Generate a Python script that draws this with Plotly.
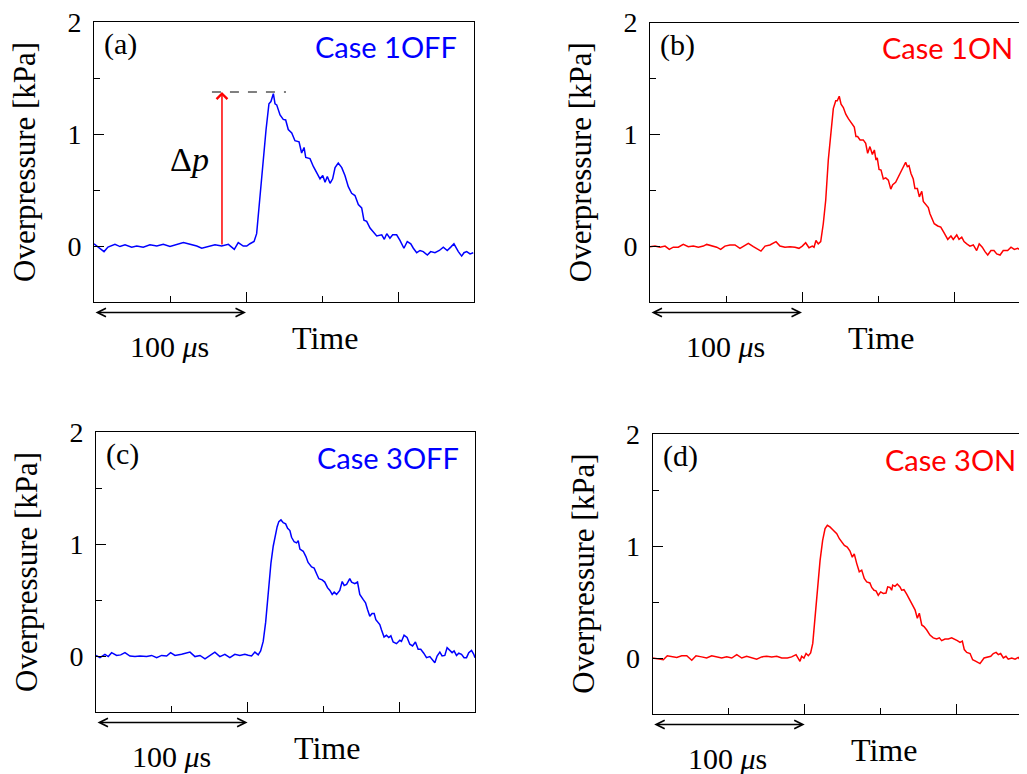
import plotly.graph_objects as go

# ---------------- data (time in microseconds, overpressure in kPa) ----------------
t_a = [0.0, 3.9, 6.6, 9.2, 13.8, 17.1, 20.4, 24.8, 28.1, 32.4,
       36.8, 41.3, 45.6, 50.0, 54.4, 58.8, 63.2, 67.6, 70.9, 75.2,
       79.6, 84.0, 88.4, 92.3, 94.9, 98.2, 100.5, 102.6, 105.3, 107.0,
       109.2, 111.4, 113.2, 115.1, 116.4, 118.0, 119.1, 120.2, 122.4, 124.5,
       126.1, 127.8, 130.1, 132.2, 134.9, 136.6, 138.2, 139.3, 142.1, 144.3,
       146.5, 148.7, 150.5, 152.0, 153.5, 155.3, 157.0, 158.6, 160.7, 163.0,
       165.1, 167.3, 169.5, 171.7, 173.9, 176.1, 177.6, 179.4, 181.6, 183.8,
       186.0, 189.3, 191.0, 192.6, 194.7, 196.5, 199.1, 201.3, 203.9, 206.1,
       208.4, 210.1, 212.3, 214.5, 216.6, 219.3, 221.5, 224.3, 227.2, 229.8,
       232.4, 234.7, 236.8, 239.7, 241.9, 243.4, 245.2, 247.4, 249.5]
p_a = [0.02, -0.02, -0.05, -0.01, 0.015, -0.005, 0.01, -0.01, 0.0, -0.01,
       0.01, 0.0, 0.015, -0.005, 0.01, 0.03, 0.015, 0.0, -0.02, -0.005,
       0.01, 0.0, 0.015, -0.03, 0.03, 0.0, 0.0, 0.02, 0.04, 0.11,
       0.44, 0.80, 1.04, 1.27, 1.29, 1.36, 1.27, 1.26, 1.17, 1.13,
       1.125, 1.04, 1.01, 0.94, 0.93, 0.83, 0.88, 0.79, 0.78, 0.71,
       0.65, 0.60, 0.63, 0.57, 0.62, 0.56, 0.60, 0.70, 0.74, 0.70,
       0.63, 0.53, 0.47, 0.45, 0.37, 0.34, 0.23, 0.22, 0.16, 0.12,
       0.09, 0.10, 0.06, 0.11, 0.07, 0.10, 0.10, 0.05, -0.02, 0.04,
       0.02, -0.02, -0.06, -0.04, -0.05, -0.08, -0.05, -0.06, -0.04, -0.01,
       -0.04, -0.01, 0.02, -0.05, -0.09, -0.06, -0.05, -0.07, -0.06]

t_b = [0, 3.3, 6.6, 9.9, 12.7, 15.3, 18.6, 21.9, 25.2, 28.5,
       31.8, 35.1, 37.3, 40.6, 43.9, 46.5, 49.3, 52.6, 55.9, 59.2,
       62.5, 64.7, 68.0, 73.0, 75.7, 78.9, 82.9, 85.5, 88.8, 92.1,
       95.4, 98.0, 100.2, 102.4, 104.6, 106.8, 107.9, 109.2, 110.7, 112.3,
       114.0, 115.6, 117.3, 119.1, 120.6, 122.2, 123.2, 124.5, 125.7, 127.2,
       128.8, 130.5, 132.7, 134.4, 135.5, 136.6, 138.2, 140.3, 141.9, 143.2,
       144.7, 146.3, 147.6, 148.7, 149.5, 150.7, 152.0, 153.5, 155.1, 156.8,
       158.4, 159.7, 161.6, 163.4, 165.1, 166.6, 168.2, 169.3, 170.4, 171.7,
       173.2, 174.3, 175.9, 177.2, 178.8, 179.8, 181.6, 183.1, 184.2, 185.3,
       187.0, 189.3, 191.3, 193.4, 195.9, 198.0, 199.5, 201.8, 203.3, 205.1,
       206.6, 208.4, 210.5, 212.7, 214.9, 216.6, 218.6, 220.4, 222.2, 224.3,
       226.3, 228.1, 230.3, 232.4, 235.3, 237.5, 239.7, 241.9, 244.1, 245.6,
       247.2, 248.5]
p_b = [-0.005, 0.0, -0.01, 0.0, -0.03, -0.01, -0.01, 0.015, -0.005, 0.0,
       -0.01, 0.0, 0.015, 0.0, -0.01, -0.03, 0.0, 0.01, 0.01, -0.02,
       0.01, 0.025, -0.005, -0.045, 0.0, 0.01, 0.04, 0.0, -0.01, -0.005,
       -0.01, -0.02, 0.0, 0.03, -0.015, 0.0, -0.01, 0.05, 0.02, 0.04,
       0.20, 0.41, 0.77, 1.04, 1.23, 1.30, 1.30, 1.34, 1.27, 1.24,
       1.18, 1.14, 1.10, 1.065, 0.98, 0.98, 0.95, 0.95, 0.92, 0.83,
       0.89, 0.82, 0.86, 0.77, 0.79, 0.685, 0.68, 0.60, 0.61, 0.59,
       0.51, 0.55, 0.57, 0.62, 0.66, 0.70, 0.75, 0.71, 0.72, 0.65,
       0.60, 0.515, 0.515, 0.44, 0.49, 0.40, 0.37, 0.345, 0.29, 0.26,
       0.20, 0.18, 0.17, 0.12, 0.06, 0.09, 0.06, 0.10, 0.06, 0.08,
       0.04, 0.02, 0.0, 0.01, -0.04, 0.02, -0.01, -0.05, -0.08, -0.04,
       -0.04, -0.07, -0.08, -0.04, -0.04, -0.01, -0.03, -0.02, -0.04, -0.02,
       -0.125, -0.13]

t_c = [0, 2.6, 5.9, 8.1, 10.3, 13.6, 16.3, 19.1, 22.4, 25.7,
       29.0, 33.4, 36.7, 40.0, 43.3, 46.6, 49.2, 52.1, 56.5, 62.0,
       65.3, 68.6, 71.9, 75.1, 78.4, 81.7, 85.0, 88.3, 91.6, 94.9,
       98.2, 100.4, 102.6, 104.8, 107.0, 108.6, 110.3, 111.9, 113.6, 115.4,
       116.9, 118.0, 119.5, 120.6, 122.0, 123.5, 125.1, 126.4, 127.9, 129.0,
       130.7, 132.3, 133.4, 134.5, 136.7, 138.4, 139.9, 142.2, 143.9, 145.5,
       147.0, 149.2, 150.9, 152.7, 154.3, 155.8, 157.1, 158.7, 160.8, 162.4,
       163.7, 165.3, 166.3, 167.4, 168.6, 170.7, 172.5, 174.0, 176.2, 177.8,
       179.1, 180.6, 182.1, 183.5, 184.6, 186.1, 187.2, 188.3, 190.0, 191.6,
       193.1, 194.5, 196.0, 198.2, 200.4, 201.5, 203.2, 205.2, 207.0, 208.8,
       210.7, 212.5, 214.2, 216.2, 218.0, 220.2, 221.7, 223.5, 225.0, 226.8,
       228.3, 230.1, 231.6, 233.4, 234.9, 236.2, 237.8, 239.3, 241.1, 242.8,
       244.4, 245.9, 247.7, 249.2, 250.0]
p_c = [0.005, -0.015, 0.015, -0.005, 0.03, 0.005, 0.01, 0.03, 0.0, -0.005,
       0.0, -0.005, 0.005, -0.015, 0.005, 0.0, 0.03, 0.005, 0.015, 0.035,
       -0.005, 0.005, -0.025, 0.005, 0.035, -0.005, 0.015, -0.015, 0.015, 0.005,
       0.015, 0.006, 0.0, 0.035, 0.01, 0.045, 0.13, 0.30, 0.56, 0.83,
       0.98, 1.07, 1.155, 1.20, 1.215, 1.19, 1.18, 1.14, 1.12, 1.06,
       1.02, 1.01, 1.03, 0.955, 0.935, 0.89, 0.835, 0.795, 0.785, 0.735,
       0.69, 0.68, 0.66, 0.61, 0.585, 0.55, 0.57, 0.55, 0.585, 0.665,
       0.63, 0.64, 0.665, 0.69, 0.66, 0.645, 0.66, 0.55, 0.505, 0.475,
       0.415, 0.355, 0.38, 0.38, 0.325, 0.295, 0.28, 0.235, 0.17, 0.185,
       0.165, 0.18, 0.125, 0.11, 0.14, 0.13, 0.185, 0.165, 0.105, 0.09,
       0.125, 0.06, 0.06, 0.025, -0.015, -0.005, -0.035, -0.06, 0.0, 0.035,
       0.0, 0.005, 0.075, 0.055, 0.03, 0.045, 0.005, 0.025, 0.015, -0.015,
       -0.015, 0.03, 0.05, 0.015, -0.015]

t_d = [0, 3.7, 7.0, 9.6, 12.5, 15.8, 19.1, 22.4, 25.7, 28.5,
       32.2, 35.5, 38.8, 42.1, 45.4, 48.7, 52.0, 55.3, 58.6, 61.8,
       65.1, 68.4, 71.7, 75.0, 78.3, 81.6, 84.9, 88.6, 91.4, 94.3,
       96.9, 98.0, 99.5, 100.9, 102.4, 103.9, 105.3, 106.8, 108.3, 110.1,
       111.8, 113.4, 114.9, 116.6, 118.8, 121.1, 122.8, 124.3, 126.1, 128.0,
       129.8, 131.3, 132.6, 134.2, 135.9, 137.5, 139.2, 140.8, 142.9, 144.1,
       145.6, 146.9, 148.4, 150.0, 151.7, 153.5, 154.6, 156.1, 157.2, 157.9,
       159.4, 160.9, 162.7, 163.8, 165.3, 167.1, 169.3, 171.1, 172.6, 174.1,
       175.4, 177.0, 178.5, 180.3, 182.4, 184.6, 186.8, 188.6, 190.1, 192.3,
       194.5, 196.7, 198.4, 200.4, 202.2, 203.7, 205.0, 206.6, 208.8, 210.5,
       212.7, 215.3, 218.0, 220.1, 222.4, 224.1, 225.9, 227.4, 228.9, 230.7,
       232.4, 233.9, 236.2, 238.4, 240.5, 242.1, 243.8, 245.0, 246.4]
p_d = [0.0, -0.01, -0.015, 0.02, 0.01, 0.005, 0.02, 0.02, -0.02, 0.02,
       0.01, 0.0, 0.02, 0.01, 0.0, 0.01, 0.0, 0.03, 0.0, 0.015,
       0.0, -0.01, 0.01, 0.015, 0.01, 0.015, 0.0, 0.0, 0.01, 0.03,
       -0.03, 0.015, 0.0, 0.04, 0.02, 0.045, 0.13, 0.37, 0.64, 0.87,
       1.05, 1.155, 1.185, 1.17, 1.14, 1.11, 1.065, 1.035, 1.005, 0.99,
       0.955, 0.90, 0.93, 0.845, 0.77, 0.785, 0.71, 0.68, 0.67, 0.63,
       0.605, 0.60, 0.56, 0.59, 0.577, 0.58, 0.635, 0.63, 0.605, 0.65,
       0.64, 0.66, 0.635, 0.605, 0.61, 0.57, 0.51, 0.475, 0.43, 0.355,
       0.40, 0.295, 0.28, 0.25, 0.205, 0.18, 0.17, 0.18, 0.155, 0.17,
       0.17, 0.18, 0.165, 0.155, 0.14, 0.15, 0.075, 0.05, 0.04, -0.015,
       -0.03, -0.05, 0.0, 0.005, 0.015, 0.04, 0.05, 0.03, 0.04, 0.0,
       0.015, -0.01, 0.0, -0.01, 0.005, -0.02, 0.0, -0.04, -0.025]

panel_letters = ["(a)", "(b)", "(c)", "(d)"]
case_names = ["Case 1OFF", "Case 1ON", "Case 3OFF", "Case 3ON"]
y_ticks = [0, 1, 2]
y_minor = [0.5, 1.5]
x_ticks = [0, 100, 200]
x_minor = [50, 150]
peak_a = 1.375      # Δp level marked in panel (a)
delta_t = 84.2      # time at which Δp arrow is drawn

BLUE = "#0000FF"
RED = "#FF0000"
OFF = 8                      # page body margin of the html page
W, H = 1027 - OFF, 774 - OFF
SERIF = "Liberation Serif, Times New Roman, serif"


def px(x):
    return (x - OFF) / W


def py(y):
    return 1 - (y - OFF) / H


# panel geometry in window pixels: left, right, top, bottom, x-range max
panels = [
    dict(l=94, r=474, t=22, b=302, xmax=250.0),
    dict(l=650, r=1027, t=22.5, b=302, xmax=(1027 - 650) / 1.52),
    dict(l=96, r=475, t=432, b=712, xmax=250.0),
    dict(l=652.7, r=1027, t=434, b=714, xmax=(1027 - 652.7) / 1.52),
]
series = [(t_a, p_a, BLUE), (t_b, p_b, RED), (t_c, p_c, BLUE), (t_d, p_d, RED)]

fig = go.Figure()
layout = dict(width=W, height=H,
              margin=dict(l=0, r=0, t=0, b=0, pad=0, autoexpand=False),
              paper_bgcolor="white", plot_bgcolor="white", showlegend=False)
annotations = []

for i, (pn, (tt, pp, col)) in enumerate(zip(panels, series)):
    k = "" if i == 0 else str(i + 1)
    fig.add_trace(go.Scatter(x=tt, y=pp, mode="lines",
                             line=dict(color=col, width=1.5),
                             xaxis="x" + k, yaxis="y" + k, hoverinfo="skip"))
    layout["xaxis" + k] = dict(
        domain=[px(pn["l"]), min(1.0, px(pn["r"]))], range=[0, pn["xmax"]],
        anchor="y" + k, showgrid=False, zeroline=False, automargin=False,
        showline=True, linecolor="black", linewidth=1, mirror=True,
        ticks="inside", ticklen=10, tickwidth=1, tickcolor="black",
        tickvals=x_ticks, showticklabels=False,
        minor=dict(tickvals=x_minor, ticks="inside", ticklen=6,
                   tickwidth=1, tickcolor="black"))
    layout["yaxis" + k] = dict(
        domain=[py(pn["b"]), py(pn["t"])], range=[-0.5, 2],
        anchor="x" + k, showgrid=False, zeroline=False, automargin=False,
        showline=True, linecolor="black", linewidth=1,
        mirror=(i % 2 == 0),
        ticks="inside", ticklen=10, tickwidth=1, tickcolor="black",
        tickvals=y_ticks, ticktext=[str(v) for v in y_ticks],
        tickfont=dict(family=SERIF, size=28, color="black"),
        ticklabelstandoff=6, ticklabeloverflow="allow",
        minor=dict(tickvals=y_minor, ticks="inside", ticklen=6,
                   tickwidth=1, tickcolor="black"))

    # y-axis title
    annotations.append(dict(text="Overpressure [kPa]", textangle=-90,
                            x=px(pn["l"] - 70), y=py((pn["t"] + pn["b"]) / 2),
                            xref="paper", yref="paper", showarrow=False,
                            xanchor="center", yanchor="middle",
                            font=dict(family=SERIF, size=31, color="black")))
    # panel letter
    annotations.append(dict(text=panel_letters[i], x=px(pn["l"] + 8),
                            y=py(pn["t"] + 22), xref="paper", yref="paper",
                            showarrow=False, xanchor="left", yanchor="middle",
                            font=dict(family=SERIF, size=30, color="black")))
    # case label
    annotations.append(dict(text=case_names[i], x=px(pn["l"] + 365),
                            y=py(pn["t"] + 25), xref="paper", yref="paper",
                            showarrow=False, xanchor="right", yanchor="middle",
                            font=dict(family="Lato, Noto Sans, sans-serif",
                                      size=29, color=col)))
    # "Time" label
    annotations.append(dict(text="Time", x=px(pn["l"] + 231),
                            y=py(pn["b"] + 36), xref="paper", yref="paper",
                            showarrow=False, xanchor="center", yanchor="middle",
                            font=dict(family=SERIF, size=32, color="black")))
    # "100 μs" label
    annotations.append(dict(text="100 <i>μ</i>s", x=px(pn["l"] + 75),
                            y=py(pn["b"] + 44), xref="paper", yref="paper",
                            showarrow=False, xanchor="center", yanchor="middle",
                            font=dict(family=SERIF, size=30, color="black")))
    # 100 μs double arrow (x in data units)
    annotations.append(dict(text="", x=100, y=py(pn["b"] + 10.5),
                            xref="x" + k, yref="paper",
                            ax=0, ay=0, axref="x" + k, ayref="pixel",
                            showarrow=True, arrowside="end+start",
                            arrowhead=5, startarrowhead=5,
                            arrowsize=1.3, startarrowsize=1.3,
                            arrowwidth=1.3, arrowcolor="black"))

# Δp arrow and dashed peak line in panel (a)
annotations.append(dict(text="", x=delta_t, y=peak_a, xref="x", yref="y",
                        ax=delta_t, ay=0, axref="x", ayref="y",
                        showarrow=True, arrowhead=4, arrowsize=1.4,
                        arrowwidth=1.5, arrowcolor=RED))
annotations.append(dict(text="Δ<i>p</i>", x=63, y=0.77, xref="x", yref="y",
                        showarrow=False, xanchor="center", yanchor="middle",
                        font=dict(family=SERIF, size=34, color="black")))
layout["annotations"] = annotations
layout["shapes"] = [dict(type="line", xref="x", yref="y", x0=77.6, x1=126.3,
                         y0=peak_a, y1=peak_a,
                         line=dict(color="black", width=1, dash="dash"))]

fig.update_layout(**layout)
fig.write_html("out.html")
